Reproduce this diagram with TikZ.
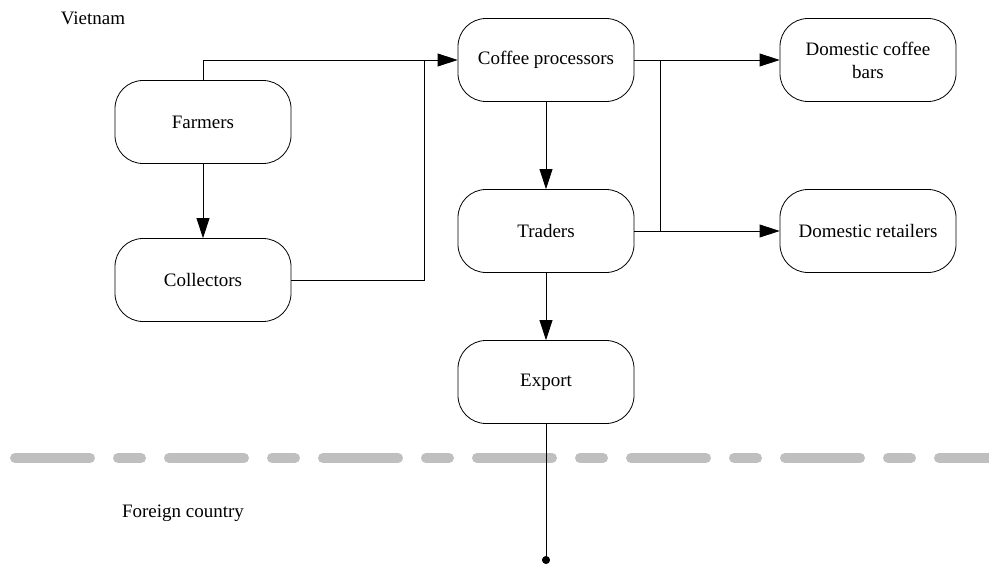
\documentclass[tikz,border=0pt]{standalone}
\usepackage{fontspec}
\setmainfont{Liberation Serif}
\usetikzlibrary{positioning, arrows.meta, calc}
\tikzset{chainbox/.style={draw, rounded corners=28pt, minimum width=176pt, minimum height=83pt, inner sep=2pt, align=center, line width=0.8pt, font=\fontsize{19}{23}\selectfont}}
\tikzset{arr/.style={draw, line width=0.8pt, -{Triangle[length=20pt, width=13pt]}}}
\tikzset{link/.style={draw, line width=0.8pt}}
\tikzset{border/.style={draw=black!25, line width=10pt, line cap=round, dash pattern=on 75pt off 28pt on 23pt off 28pt}}
\tikzset{region/.style={font=\fontsize{19}{23}\selectfont}}

\begin{document}
\begin{tikzpicture}[x=1pt, y=-1pt]
    \useasboundingbox (0,0) rectangle (989,564);
    % regions
    \node[region] (vn) at (93,18) {Vietnam};
    \node[region] (fc) at (183,513) {Foreign country};
    \coordinate (bl) at (15,458);
    \coordinate (br) at (995,458);
    \draw[border] (bl) -- (br);

    % supply chain
    \node[chainbox] (farmers) at (203,122) {Farmers};
    \node[chainbox] (collectors) at (203,280) {Collectors};
    \node[chainbox] (processors) at (546,60) {Coffee processors};
    \node[chainbox] (traders) at (546,231) {Traders};
    \node[chainbox] (export) at (546,382) {Export};
    \node[chainbox] (bars) at (868,60) {Domestic coffee\\bars};
    \node[chainbox] (retailers) at (868,231) {Domestic retailers};
    \coordinate (jl) at (424,60);
    \coordinate (jr) at (660,60);
    \coordinate (abroad) at (546,564);

    \draw[arr] (farmers) -- (collectors);
    \draw[arr] (farmers.north) |- (processors.west);
    \draw[link] (collectors.east) -| (jl);
    \draw[arr] (processors) -- (traders);
    \draw[arr] (processors.east) -- (bars.west);
    \draw[arr] (traders.east) -- (retailers.west);
    \draw[link] (traders.east) -| (jr);
    \draw[arr] (traders) -- (export);
    \draw[link, -{Circle[length=8pt]}] (export) -- (abroad);
\end{tikzpicture}
\end{document}
